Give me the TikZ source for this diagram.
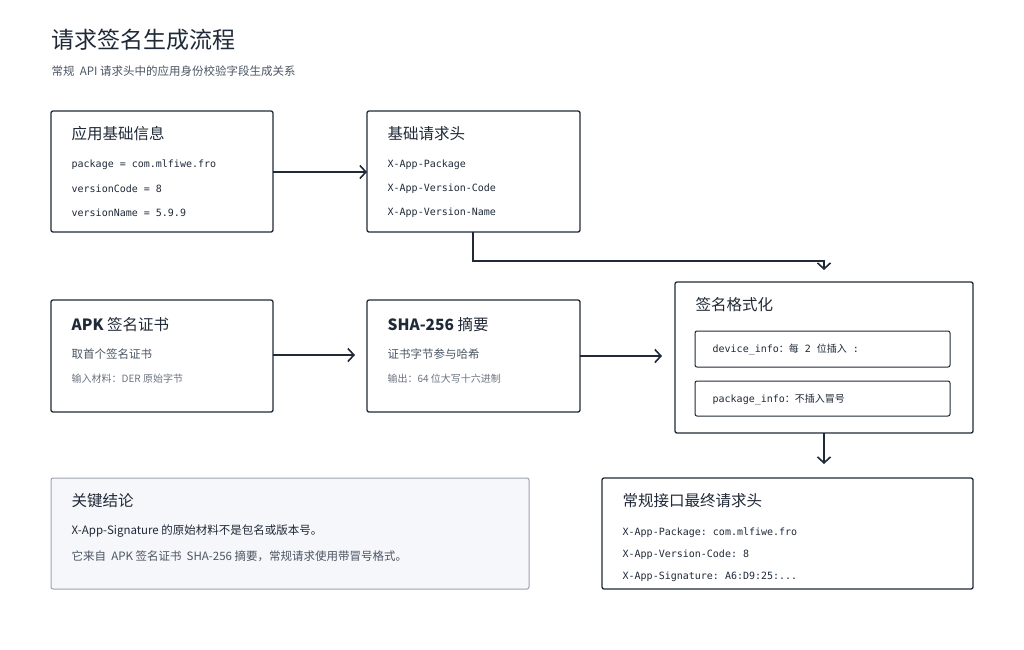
\documentclass[tikz,border=0pt]{standalone}
\usepackage{fontspec}
\setmainfont{Noto Sans CJK SC}
\setmonofont{DejaVu Sans Mono}
\usetikzlibrary{positioning,arrows.meta}
\definecolor{ink}{HTML}{1F2937}
\definecolor{soft}{HTML}{4B5563}
\definecolor{pale}{HTML}{6B7280}
\definecolor{note}{HTML}{F5F7FA}
\definecolor{noteline}{HTML}{9CA3AF}
\newcommand{\cjktxt}[1]{{\rmfamily\fontsize{10}{12}\selectfont #1}}
\begin{document}
\begin{tikzpicture}[x=1pt,y=-1pt,line width=1.3pt,
  box/.style={draw=ink,rounded corners=2pt},
  txt/.style={anchor=west,inner sep=0pt,text=ink},
  head/.style={txt,font=\fontsize{15.5}{18}\selectfont},
  code/.style={txt,font=\ttfamily\fontsize{10}{12}\selectfont},
  sub/.style={txt,text=soft,font=\fontsize{11.5}{13}\selectfont},
  tiny/.style={txt,text=pale,font=\fontsize{10}{11}\selectfont},
  flow/.style={draw=ink,line width=1.6pt,-{Straight Barb[length=6pt,width=13pt]}}]
\useasboundingbox (0,0) rectangle (1024,649);
% title
\node[txt,font=\fontsize{23}{26}\selectfont] (title) at (51,40) {请求签名生成流程};
\node[txt,text=soft,font=\fontsize{11.5}{13}\selectfont] (subt) at (51,71) {常规 \ API 请求头中的应用身份校验字段生成关系};
% boxes
\draw[box] (51,111) rectangle (273,232);
\draw[box] (367,111) rectangle (580,232);
\draw[box] (51,300) rectangle (273,412);
\draw[box] (367,300) rectangle (580,412);
\draw[box] (675,282) rectangle (973,433);
\draw[box,line width=1pt] (695,331) rectangle (950,367);
\draw[box,line width=1pt] (695,381) rectangle (950,416);
\draw[box] (602,478) rectangle (973,589);
\draw[rounded corners=2pt,draw=noteline,fill=note,line width=1pt] (51,478) rectangle (529,589);
% app info
\node[head] (info) at (71,134) {应用基础信息};
\node[code] (pkg) at (71,165) {package = com.mlfiwe.fro};
\node[code] (vcode) at (71,189) {versionCode = 8};
\node[code] (vname) at (71,213) {versionName = 5.9.9};
% base headers
\node[head] (base) at (387,134) {基础请求头};
\node[code] (hpkg) at (387,165) {X-App-Package};
\node[code] (hvc) at (387,189) {X-App-Version-Code};
\node[code] (hvn) at (387,213) {X-App-Version-Name};
% cert
\node[head] (cert) at (71,325) {\textbf{APK} 签名证书};
\node[sub] (certa) at (71,354) {取首个签名证书};
\node[tiny] (certb) at (71,379) {输入材料：DER 原始字节};
% digest
\node[head] (sha) at (387,325) {\textbf{SHA-256} 摘要};
\node[sub] (shaa) at (387,354) {证书字节参与哈希};
\node[tiny] (shab) at (387,379) {输出：64 位大写十六进制};
% format
\node[head] (fmt) at (695,305) {签名格式化};
\node[code] (dev) at (712,349) {device\_info\cjktxt{：每} 2 \cjktxt{位插入} :};
\node[code] (pinfo) at (712,399) {package\_info\cjktxt{：不插入冒号}};
% final
\node[head] (final) at (622,501) {常规接口最终请求头};
\node[code] (fpkg) at (622,533) {X-App-Package: com.mlfiwe.fro};
\node[code] (fvc) at (622,555) {X-App-Version-Code: 8};
\node[code] (fsig) at (622,577) {X-App-Signature: A6:D9:25:...};
% note
\node[head] (key) at (71,501) {关键结论};
\node[txt,font=\fontsize{11.5}{13}\selectfont] (keya) at (71,531) {X-App-Signature 的原始材料不是包名或版本号。};
\node[txt,text=soft,font=\fontsize{11.5}{13}\selectfont] (keyb) at (71,556) {它来自 \ APK 签名证书 \ SHA-256 摘要，常规请求使用带冒号格式。};
% arrows
\coordinate (a1) at (273,172); \coordinate (a2) at (367,172);
\draw[flow] (a1) -- (a2);
\coordinate (b1) at (473,232); \coordinate (b2) at (824,270);
\draw[flow] (b1) |- (824,261) -- (b2);
\coordinate (c1) at (273,355); \coordinate (c2) at (355,355);
\draw[flow] (c1) -- (c2);
\coordinate (d1) at (580,356); \coordinate (d2) at (662,356);
\draw[flow] (d1) -- (d2);
\coordinate (e1) at (824,433); \coordinate (e2) at (824,464);
\draw[flow] (e1) -- (e2);
\end{tikzpicture}
\end{document}
